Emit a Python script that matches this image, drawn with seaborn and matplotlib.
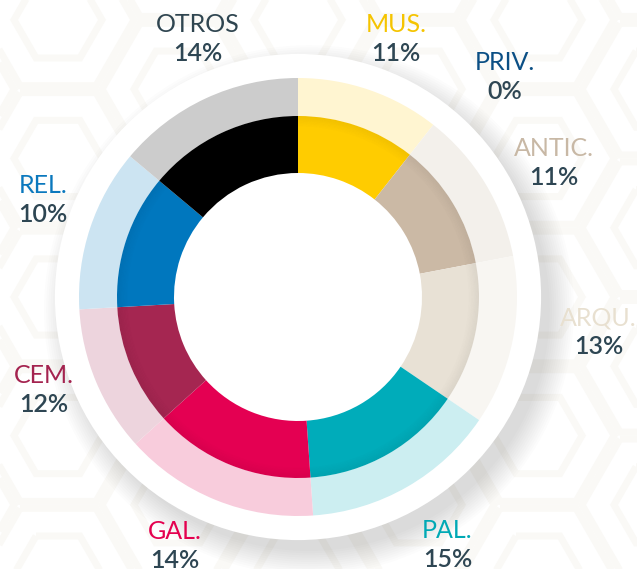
import numpy as np
import matplotlib
matplotlib.use("Agg")
import matplotlib.pyplot as plt
from matplotlib.patches import Circle, Wedge, RegularPolygon
import seaborn as sns

# categories, clockwise from 12 o'clock
cats = ["MUS.", "PRIV.", "ANTIC.", "ARQU.", "PAL.", "GAL.", "CEM.", "REL.", "OTROS"]
pct_labels = ["11%", "0%", "11%", "13%", "15%", "14%", "12%", "10%", "14%"]
# wedge sizes as drawn in the picture (percent)
shares = [10.6, 0.0, 11.4, 12.5, 14.4, 14.4, 10.8, 12.0, 13.9]

inner_cols = ["#FFCC00", "#0B4F85", "#CBB9A5", "#E8E1D5", "#00ACBA",
              "#E40052", "#A52651", "#0077BE", "#000000"]
outer_cols = ["#FFF5D1", "#D6E2EC", "#F3F0EB", "#F8F6F2", "#CCEEF1",
              "#F8CCDC", "#EDD4DD", "#CCE4F2", "#CCCCCC"]
name_cols = ["#F5C400", "#0B4F85", "#C8B8A5", "#E8E0D0", "#00A9B5",
             "#E4004F", "#A4234F", "#0A78BD", "#2F4550"]
pct_col = "#2E4653"

# hand placement tweaks of the labels (px, right / down)
label_nudge = {"OTROS": (17, -6), "MUS.": (7, 5), "ANTIC.": (18, 11),
               "ARQU.": (28, -21), "PAL.": (11, 7), "GAL.": (-19, -9),
               "CEM.": (2, -14), "REL.": (9, -9)}

sns.set_theme(style="white")
plt.rcParams["font.family"] = ["Lato", "DejaVu Sans"]

W, H = 637, 569
R = 219.0           # outer radius in px
cx, cy = 298.0, 297.0

fig = plt.figure(figsize=(W / 100, H / 100), dpi=100)
ax = fig.add_axes([0, 0, 1, 1])
ax.set_aspect("equal")
ax.axis("off")

# faint hexagon background pattern
hex_r = 80 / R
for i in range(-3, 5):
    for j in range(-3, 4):
        x = i * hex_r * 1.5
        y = j * hex_r * np.sqrt(3) + (i % 2) * hex_r * np.sqrt(3) / 2
        for rr in (hex_r * 0.95, hex_r * 0.55):
            ax.add_patch(RegularPolygon((x, y), 6, radius=rr, orientation=np.pi / 6,
                                        fill=False, ec="#FAF9F6", lw=5, zorder=0))

# soft shadow (lower right) + white backing disc
for k in range(12):
    ax.add_patch(Circle((0.05, -0.06), 1.10 + 0.01 * k, color="#000000",
                        alpha=0.01, lw=0, zorder=1))
ax.add_patch(Circle((0, 0), 1.11, color="white", lw=0, zorder=2))

# outer pale ring
ax.pie(shares, radius=1.0, colors=outer_cols, startangle=90, counterclock=False,
       wedgeprops=dict(width=0.174, linewidth=0, zorder=3))
# inner saturated ring
r_in = 181 / R
ax.pie(shares, radius=r_in, colors=inner_cols, startangle=90, counterclock=False,
       wedgeprops=dict(width=r_in - 124 / R, linewidth=0, zorder=4))

# subtle shadow along the outer edge of the inner ring
n = 8
for k in range(n):
    ax.add_patch(Wedge((0, 0), r_in - k * 0.006, 0, 360, width=0.006,
                       color="black", alpha=0.05 * (1 - k / n), lw=0, zorder=5))

ax.set_xlim(-cx / R, (W - cx) / R)
ax.set_ylim(-(H - cy) / R, cy / R)

# labels placed along each wedge's mid angle
cum = np.cumsum([0] + shares)
for k, cat in enumerate(cats):
    mid = (cum[k] + cum[k + 1]) / 2 / 100 * 360
    rl = 1.27
    if shares[k] == 0:
        mid += 5
        rl = 1.38
    th = np.deg2rad(90 - mid)
    dx, dy = label_nudge.get(cat, (0, 0))
    x = rl * np.cos(th) + dx / R
    y = rl * np.sin(th) - dy / R
    ax.text(x, y + 0.066, cat, ha="center", va="center", fontsize=18,
            color=name_cols[k], zorder=6)
    ax.text(x, y - 0.066, pct_labels[k], ha="center", va="center", fontsize=18,
            fontweight="semibold", color=pct_col, zorder=6)

fig.savefig("out.png", dpi=100)
